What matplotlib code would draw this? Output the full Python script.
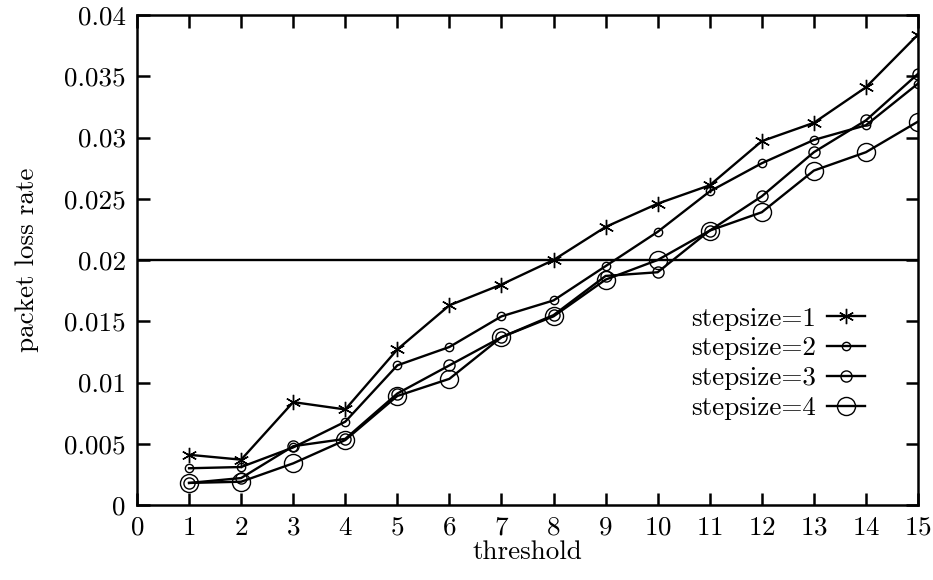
import numpy as np
import matplotlib
matplotlib.use("Agg")
import matplotlib.pyplot as plt

threshold = [1, 2, 3, 4, 5, 6, 7, 8, 9, 10, 11, 12, 13, 14, 15]
step1 = [0.0041, 0.0037, 0.0084, 0.0078, 0.0127, 0.0163, 0.0180, 0.0200, 0.0227, 0.0246, 0.0261, 0.0297, 0.0312, 0.0341, 0.0384]
step2 = [0.0030, 0.0031, 0.0047, 0.0068, 0.0114, 0.0129, 0.0154, 0.0167, 0.0195, 0.0223, 0.0256, 0.0279, 0.0298, 0.0310, 0.0344]
step3 = [0.0018, 0.0022, 0.0048, 0.0054, 0.0091, 0.0114, 0.0137, 0.0155, 0.0187, 0.0190, 0.0224, 0.0252, 0.0288, 0.0314, 0.0352]
step4 = [0.0018, 0.0019, 0.0034, 0.0053, 0.0089, 0.0103, 0.0137, 0.0154, 0.0184, 0.0200, 0.0224, 0.0239, 0.0273, 0.0288, 0.0313]
labels = ["stepsize=1", "stepsize=2", "stepsize=3", "stepsize=4"]
limit = 0.02

plt.rcParams['font.family'] = 'serif'
plt.rcParams['font.serif'] = ['cmr10', 'DejaVu Serif']
plt.rcParams['axes.formatter.use_mathtext'] = True
fs = 19.5

fig = plt.figure(figsize=(9.33, 5.80), dpi=100)
ax = fig.add_axes([137/933, 1-505/580, (918-137)/933, (505-15)/580])

lw = 1.7
ax.axhline(limit, color='black', lw=lw)
ax.plot(threshold, step1, color='black', lw=lw, marker=(6, 2, 0), ms=11, mew=1.0, label=labels[0])
ax.plot(threshold, step2, color='black', lw=lw, marker='o', ms=6, mfc='none', mew=1.0, label=labels[1])
ax.plot(threshold, step3, color='black', lw=lw, marker='o', ms=8, mfc='none', mew=1.0, label=labels[2])
ax.plot(threshold, step4, color='black', lw=lw, marker='o', ms=13, mfc='none', mew=1.0, label=labels[3])

ax.set_xlim(0, 15)
ax.set_ylim(0, 0.04)
ax.set_xticks(range(0, 16))
ax.set_yticks(np.arange(0, 0.0401, 0.005))
ax.set_yticklabels(['0', '0.005', '0.01', '0.015', '0.02', '0.025', '0.03', '0.035', '0.04'])
ax.tick_params(direction='in', length=9, width=1.8, top=True, right=True, labelsize=fs, pad=8)
for s in ax.spines.values():
    s.set_linewidth(1.8)

ax.set_xlabel('threshold', fontsize=fs, labelpad=0)
ax.set_ylabel('packet loss rate', fontsize=fs, labelpad=18)

ax.legend(loc='upper right', bbox_to_anchor=(0.932, 0.405), frameon=False, markerfirst=False,
          handlelength=1.4, labelspacing=0.22, fontsize=fs, handletextpad=0.4,
          borderpad=0, borderaxespad=0)

fig.savefig('out.png', dpi=100)
